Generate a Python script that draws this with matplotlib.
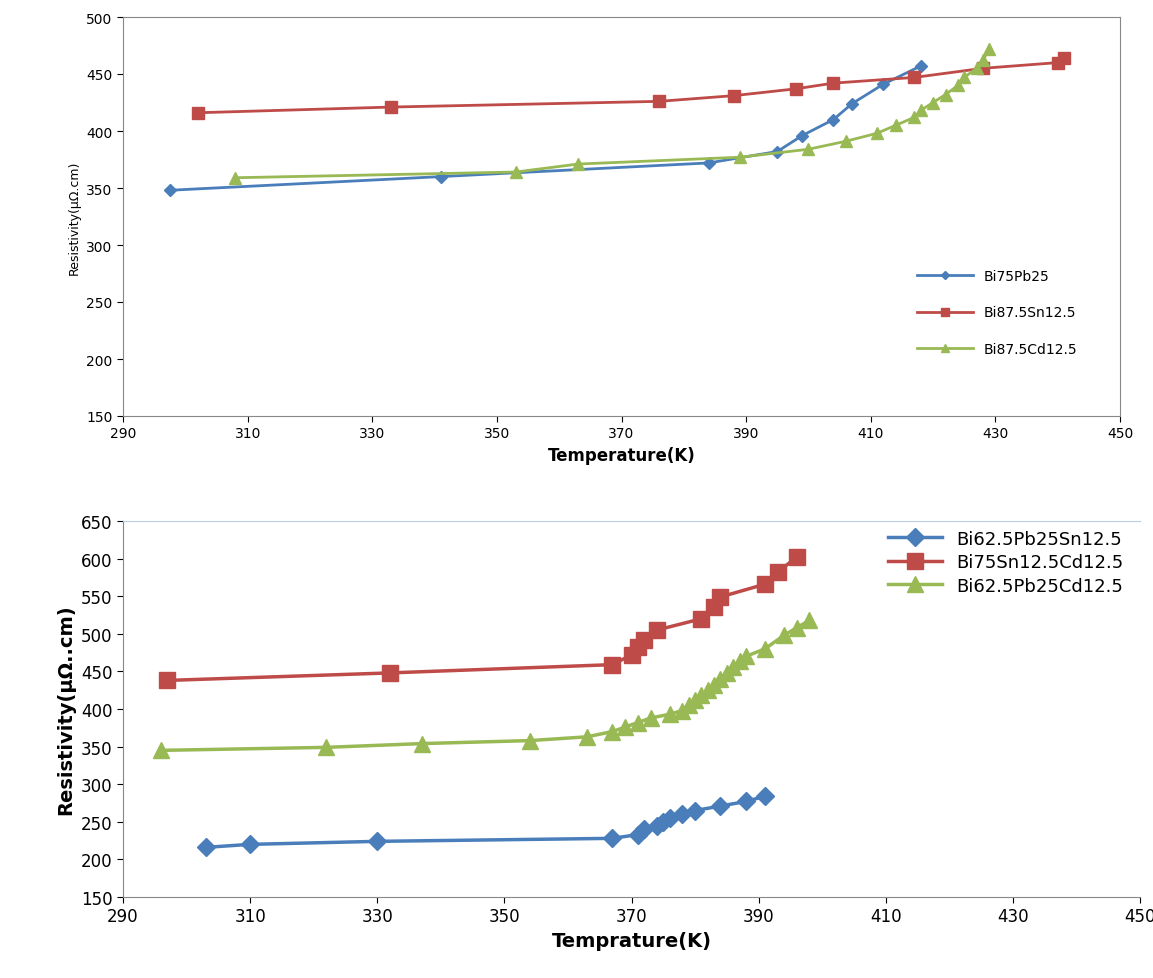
import matplotlib.pyplot as plt

# top panel
t_bipb = [297.5, 341, 384, 395, 399, 404, 407, 412, 418]
r_bipb = [348, 360, 372, 382, 396, 410, 424, 441, 457]
t_bisn = [302, 333, 376, 388, 398, 404, 417, 428, 440, 441]
r_bisn = [416, 421, 426, 431, 437, 442, 447, 455, 460, 464]
t_bicd = [308, 353, 363, 389, 400, 406, 411, 414, 417, 418, 420, 422, 424, 425, 427, 428, 429]
r_bicd = [359, 364, 371, 377, 384, 391, 398, 405, 412, 418, 425, 432, 440, 447, 455, 462, 472]

# bottom panel
t_pbsn = [303, 310, 330, 367, 371, 372, 374, 375, 376, 378, 380, 384, 388, 391]
r_pbsn = [216, 220, 224, 228, 233, 240, 245, 250, 255, 260, 265, 271, 277, 284]
t_sncd = [297, 332, 367, 370, 371, 372, 374, 381, 383, 384, 391, 393, 396]
r_sncd = [438, 448, 459, 472, 482, 492, 505, 520, 535, 549, 566, 582, 602]
t_pbcd = [296, 322, 337, 354, 363, 367, 369, 371, 373, 376, 378, 379, 380, 381, 382, 383,
          384, 385, 386, 387, 388, 391, 394, 396, 398]
r_pbcd = [345, 349, 354, 358, 363, 370, 376, 382, 388, 393, 398, 405, 412, 418, 425, 432,
          440, 448, 456, 464, 470, 480, 498, 508, 518]

BLUE = '#4a7ebb'
RED = '#be4b48'
GREEN = '#98b954'

fig = plt.figure(figsize=(11.53, 9.79), dpi=100)

ax1 = fig.add_axes([123/1153, 1-417/979, 997/1153, 399/979])
ax1.plot(t_bipb, r_bipb, '-D', color=BLUE, ms=6, lw=2, label='Bi75Pb25')
ax1.plot(t_bisn, r_bisn, '-s', color=RED, ms=9, lw=2, label='Bi87.5Sn12.5')
ax1.plot(t_bicd, r_bicd, '-^', color=GREEN, ms=9, lw=2, label='Bi87.5Cd12.5')
ax1.set_xlim(290, 450)
ax1.set_ylim(150, 500)
ax1.set_xticks(range(290, 451, 20))
ax1.set_yticks(range(150, 501, 50))
ax1.tick_params(labelsize=10, direction='out', length=4)
ax1.set_xlabel('Temperature(K)', fontsize=12, fontweight='bold')
ax1.set_ylabel('Resistivity(\u03bc\u03a9.cm)', fontsize=9)
for s in ax1.spines.values():
    s.set_color('#888888')
ax1.legend(loc='lower right', bbox_to_anchor=(0.97, 0.12), frameon=False, fontsize=10,
           labelspacing=1.6, markerscale=0.7, handlelength=4)

ax2 = fig.add_axes([123/1153, 1-898/979, 1017/1153, 376/979])
ax2.plot(t_pbsn, r_pbsn, '-D', color=BLUE, ms=9, lw=2.5, label='Bi62.5Pb25Sn12.5')
ax2.plot(t_sncd, r_sncd, '-s', color=RED, ms=11, lw=2.5, label='Bi75Sn12.5Cd12.5')
ax2.plot(t_pbcd, r_pbcd, '-^', color=GREEN, ms=11, lw=2.5, label='Bi62.5Pb25Cd12.5')
ax2.set_xlim(290, 450)
ax2.set_ylim(150, 650)
ax2.set_xticks(range(290, 451, 20))
ax2.set_yticks(range(150, 651, 50))
ax2.tick_params(labelsize=12, direction='out', length=4)
ax2.set_xlabel('Temprature(K)', fontsize=14, fontweight='bold')
ax2.set_ylabel('Resistivity(\u03bc\u03a9..cm)', fontsize=14, fontweight='bold')
ax2.spines['right'].set_visible(False)
ax2.spines['top'].set_color('#b9cde5')
ax2.spines['left'].set_color('#888888')
ax2.spines['bottom'].set_color('#888888')
ax2.legend(loc='upper right', bbox_to_anchor=(1.0, 1.02), frameon=False, fontsize=13,
           labelspacing=0.3, handlelength=3)

fig.savefig('out.png', dpi=100)
